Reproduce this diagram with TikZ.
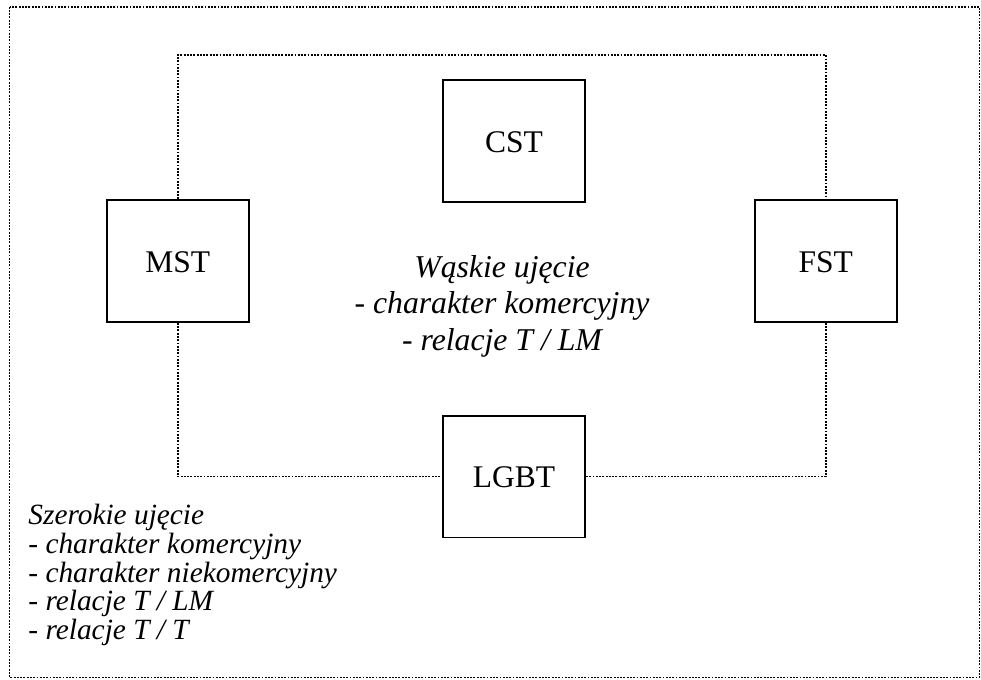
\documentclass[tikz,border=0pt]{standalone}
\usepackage{fontspec}
\setmainfont{Liberation Serif}

\begin{document}
\begin{tikzpicture}[x=0.46pt, y=-0.46pt,
  main/.style = {draw, fill=white, line width=0.9pt, minimum width=65.3pt, minimum height=56.1pt, inner sep=0pt, font=\fontsize{14.5}{17}\selectfont, text height=1.05em, text depth=0pt},
  dots/.style = {line width=0.85pt, dash pattern=on 0.85pt off 0.65pt},
  note/.style = {inner sep=0pt}]
\useasboundingbox (0,0) rectangle (981,679);
% outer frame
\draw[dots] (9.5,6.7) rectangle (979.5,677.5);
%\node[parameter] (nodeID) at (x,y) {label};
\node[main] (CST) at (514,141) {CST};
\node[main] (MST) at (177.7,261) {MST};
\node[main] (FST) at (825.7,261) {FST};
\node[main] (LGBT) at (514,476.5) {LGBT};
\coordinate (tl) at (177.7,55);
\coordinate (tr) at (825.7,55);
% inner frame
\draw[dots] (MST.north) -- (tl) -- (tr) -- (FST.north);
\draw[dots] (MST.south) |- (LGBT.west);
\draw[dots] (FST.south) |- (LGBT.east);
\node[note, align=center, font=\fontsize{14.6}{16.8}\selectfont\itshape] (narrow) at (502,306) {Wąskie ujęcie\\- charakter komercyjny\\- relacje T / LM};
\node[note, align=left, anchor=north west, font=\fontsize{13.5}{13.16}\selectfont\itshape] (wide) at (28,504) {Szerokie ujęcie\\- charakter komercyjny\\- charakter niekomercyjny\\- relacje T / LM\\- relacje T / T};
\end{tikzpicture}
\end{document}
